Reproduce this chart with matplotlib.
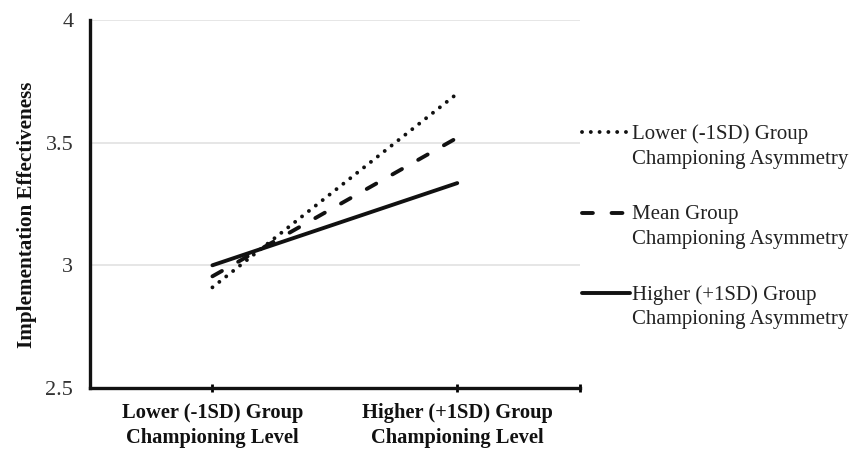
import numpy as np
import matplotlib.pyplot as plt

# x categories and simple slopes
categories = ["Lower (-1SD) Group\nChampioning Level", "Higher (+1SD) Group\nChampioning Level"]
x_pos = [0.5, 1.5]
low_asym = [2.91, 3.70]
mean_asym = [2.955, 3.52]
high_asym = [3.00, 3.335]
series_labels = ["Lower (-1SD) Group\nChampioning Asymmetry",
                 "Mean Group\nChampioning Asymmetry",
                 "Higher (+1SD) Group\nChampioning Asymmetry"]
y_ticks = [2.5, 3, 3.5, 4]
y_ticklabels = ["2.5", "3", "3.5", "4"]

plt.rcParams['font.family'] = ['Liberation Serif', 'DejaVu Serif']

fig = plt.figure(figsize=(8.59, 4.49), dpi=100)
ax = fig.add_axes([0.1048, 0.136, 0.570, 0.8195])

lw = 2.8
ax.plot(x_pos, low_asym, color='#111111', lw=lw, linestyle=(0, (0.01, 2.25)),
        dash_capstyle='round', label=series_labels[0])
ax.plot(x_pos, mean_asym, color='#111111', lw=lw, linestyle=(0, (2.8, 4.8)),
        dash_capstyle='round', label=series_labels[1])
ax.plot(x_pos, high_asym, color='#111111', lw=lw, linestyle='-',
        solid_capstyle='round', label=series_labels[2])

ax.set_xlim(0, 2)
ax.set_ylim(2.5, 4)
ax.set_yticks(y_ticks)
ax.set_yticklabels(y_ticklabels, fontsize=16, color='#333333')
ax.tick_params(axis='y', length=0, pad=12)
ax.set_xticks([0.5, 1.5, 2.0])
ax.set_xticklabels(categories + [""], fontsize=14.8, fontweight='bold', color='#111111',
                   linespacing=1.32)
ax.tick_params(axis='x', length=6, width=2, direction='inout', pad=8)

ax.yaxis.grid(True, color='#e2e2e2', lw=1.2)
ax.set_axisbelow(True)
for s in ['top', 'right']:
    ax.spines[s].set_visible(False)
for s in ['left', 'bottom']:
    ax.spines[s].set_linewidth(2.4)
    ax.spines[s].set_color('#111111')

ax.set_ylabel("Implementation Effectiveness", fontsize=15.2, fontweight='bold',
              color='#111111')
ax.yaxis.set_label_coords(-0.108, 0.47)

leg = ax.legend(loc='center left', bbox_to_anchor=(1.004, 0.438), frameon=False,
                fontsize=15, handlelength=2.3, handletextpad=0.1, labelspacing=1.75,
                borderpad=0, borderaxespad=0)
for t in leg.get_texts():
    t.set_color('#222222')
    t.set_linespacing(1.4)
# Move each legend line up to the first line of its two-line label
for h in leg.legend_handles:
    h.set_ydata(np.asarray(h.get_ydata()) + 10.0)

fig.savefig("out.png", dpi=100)
